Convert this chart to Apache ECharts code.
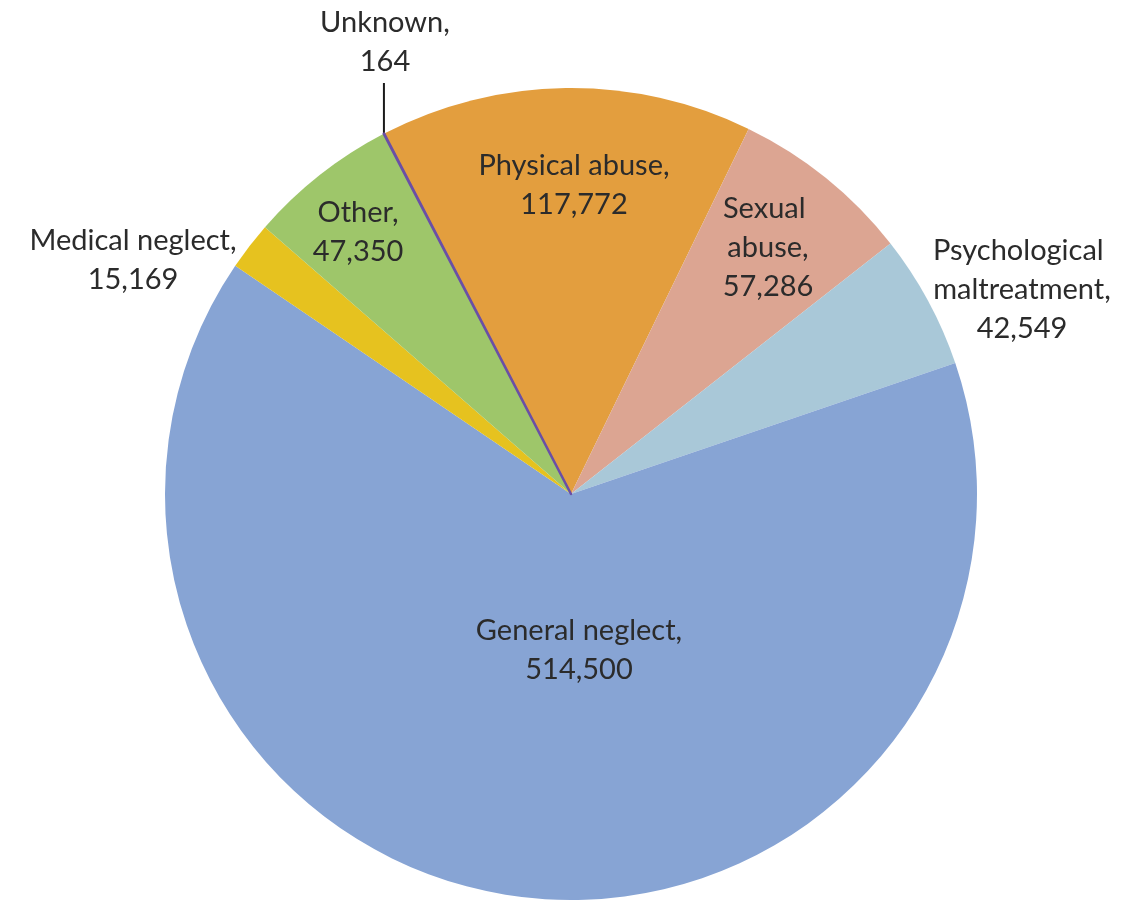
<!DOCTYPE html>
<html>
<head>
<meta charset="utf-8">
<script src="https://cdn.jsdelivr.net/npm/echarts@6/dist/echarts.min.js"></script>
<style>
  html, body { margin: 0; padding: 0; background: #fff; }
  #chart { width: 1126px; height: 900px; }
</style>
</head>
<body>
<div id="chart"></div>
<script>
// Maltreatment categories, clockwise from the physical abuse slice
const categories = ['Physical abuse', 'Sexual abuse', 'Psychological maltreatment', 'General neglect', 'Medical neglect', 'Other', 'Unknown'];
const counts = [117772, 57286, 42549, 514500, 15169, 47350, 164];
const sliceColors = ['#E39E3E', '#DCA592', '#A9C8D8', '#87A4D4', '#E6C21F', '#9EC66A', '#6A4FA6'];

// label box centres (px) and wrap widths for the category name
const labelSpots = [
  { x: 574, y: 185, width: 300 },
  { x: 768, y: 248, width: 110 },
  { x: 1022, y: 290, width: 210 },
  { x: 579, y: 650, width: 320 },
  { x: 133, y: 260, width: 320 },
  { x: 358, y: 232, width: 120 },
  { x: 385, y: 42, width: 200 }
];

const fmt = v => v.toLocaleString('en-US');

const chart = echarts.init(document.getElementById('chart'), null, { renderer: 'canvas' });

chart.setOption({
  animation: false,
  backgroundColor: '#ffffff',
  series: [{
    type: 'pie',
    center: [571, 494],
    radius: 406,
    startAngle: 117.4,
    clockwise: true,
    avoidLabelOverlap: false,
    itemStyle: { borderWidth: 0 },
    label: {
      show: true,
      position: 'outside',
      color: '#2b2b2b',
      fontFamily: 'Lato, "Open Sans", sans-serif',
      fontSize: 29,
      lineHeight: 39,
      align: 'center',
      overflow: 'break',
      formatter: p => p.name + ',\n' + fmt(p.value)
    },
    labelLine: {
      show: false
    },
    labelLayout: function (params) {
      const s = labelSpots[params.dataIndex];
      const out = { x: s.x, y: s.y, align: 'center', verticalAlign: 'middle' };
      if (params.dataIndex === 6 && params.labelLinePoints) {
        const p0 = params.labelLinePoints[0];
        out.labelLinePoints = [[p0[0], p0[1]], [p0[0], s.y + 41], [p0[0], s.y + 41]];
      }
      return out;
    },
    data: categories.map((name, i) => ({
      name: name,
      value: counts[i],
      itemStyle: i === 6
        ? { color: sliceColors[i], borderColor: sliceColors[i], borderWidth: 2.5 }
        : { color: sliceColors[i] },
      label: { width: labelSpots[i].width },
      labelLine: i === 6
        ? { show: true, length: 30, length2: 0, lineStyle: { color: '#1a1a1a', width: 2 } }
        : { show: false }
    }))
  }]
});
</script>
</body>
</html>
